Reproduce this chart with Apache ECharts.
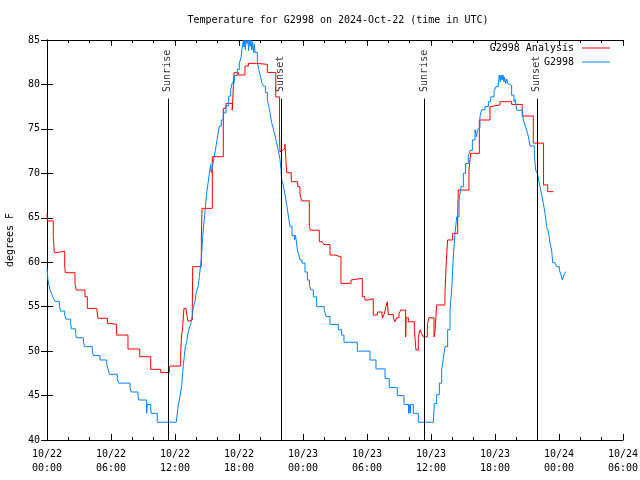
<!DOCTYPE html>
<html>
<head>
<meta charset="utf-8">
<script src="https://cdn.jsdelivr.net/npm/echarts@6/dist/echarts.min.js"></script>
<style>html,body{margin:0;padding:0;background:#fff}#c{width:640px;height:480px}</style>
</head>
<body>
<div id="c"></div>
<script>
// hours since 2024-10-22 00:00 UTC
const tickLabels = ['10/22\n00:00','10/22\n06:00','10/22\n12:00','10/22\n18:00','10/23\n00:00','10/23\n06:00','10/23\n12:00','10/23\n18:00','10/24\n00:00','10/24\n06:00'];
const seriesNames = ['G2998 Analysis', 'G2998'];
const eventNames = ['Sunrise', 'Sunset', 'Sunrise', 'Sunset'];
const eventHours = [11.33, 21.93, 35.35, 45.93];

// [hour, degrees F] change points
const analysisData = [
  [0, 65.4], [0.03, 64.64], [0.59, 62.87], [0.69, 61.07], [0.91, 61.26], [1.66, 59.5], [1.72, 58.82],
  [2.62, 57.62], [2.75, 56.87], [3.28, 57.0], [3.4, 56.87], [3.56, 56.12], [3.78, 54.81], [4.66, 55.0], [4.72, 54.81],
  [4.78, 53.69], [5.66, 53.12], [5.88, 53.01], [6.53, 51.81], [7.59, 50.24], [8.69, 49.37], [9.72, 47.95],
  [10.66, 47.6], [11.47, 48.07], [11.53, 48.32], [12.53, 49.94], [12.62, 51.7], [12.72, 52.75], [12.84, 54.81],
  [13.03, 54.81], [13.09, 54.19], [13.22, 53.36], [13.34, 53.5], [13.62, 54.62], [13.66, 59.5], [14.47, 62.69],
  [14.53, 66.06], [15.5, 71.87], [16.53, 77.31], [16.78, 77.87], [17.37, 77.12], [17.53, 81.32], [17.94, 81.06],
  [18.56, 82.07], [18.88, 82.37], [19.66, 82.26], [20.66, 81.35], [21.45, 78.6], [21.8, 74.2], [21.84, 72.4],
  [21.95, 72.6], [22.1, 72.8], [22.31, 73.27], [22.47, 70.07], [22.9, 69.06], [23.5, 68.5], [23.72, 67.56],
  [23.88, 66.9], [24.59, 64.0], [24.7, 63.6], [25.53, 62.3], [25.8, 62.5], [25.95, 62.0], [26.53, 60.81],
  [27.0, 60.6], [27.56, 57.62], [28.5, 58.0], [28.66, 58.19], [29.56, 56.12], [29.81, 55.75], [30.12, 55.9],
  [30.59, 54.06], [30.97, 54.4], [31.4, 54.1], [31.47, 53.75], [31.6, 54.12], [31.78, 55.0], [31.9, 55.56],
  [32.0, 54.12], [32.47, 53.75], [32.62, 53.3], [32.78, 53.75], [33.0, 54.2], [33.16, 54.62], [33.62, 51.6],
  [33.67, 53.75], [33.88, 53.3], [34.44, 52.4], [34.59, 50.12], [34.81, 51.6], [34.97, 52.4], [35.1, 52.0],
  [35.28, 51.6], [35.66, 53.0], [35.81, 53.75], [36.28, 51.6], [36.37, 52.1], [36.53, 55.19], [37.31, 56.5],
  [37.41, 59.5], [37.56, 62.5], [38.03, 63.25], [38.5, 65.12], [38.56, 68.12], [39.56, 70.37], [39.72, 72.25],
  [40.53, 76.0], [41.53, 77.5], [41.69, 77.69], [42.47, 78.06], [43.56, 77.75], [44.55, 76.45], [45.59, 73.4],
  [46.55, 68.7], [46.94, 67.94], [47.47, 67.94]
];

const obsData = [
  [0, 59.3], [0.09, 58.0], [0.19, 57.4], [0.28, 56.9], [0.41, 56.5], [0.59, 56.0], [0.75, 55.6], [1.16, 55.1],
  [1.28, 54.5], [1.66, 54.0], [1.78, 53.6], [2.22, 53.0], [2.31, 52.5], [2.69, 52.0], [2.75, 51.5], [3.41, 51.0],
  [3.53, 50.5], [4.25, 50.0], [4.34, 49.5], [4.97, 49.0], [5.6, 48.5], [5.72, 48.0], [5.84, 47.4], [6.59, 46.9],
  [6.72, 46.4], [7.78, 45.9], [7.91, 45.4], [8.53, 45.0], [8.62, 44.5], [9.34, 43.0], [9.41, 44.0], [9.72, 43.5],
  [9.78, 43.0], [10.34, 42.0], [12.12, 42.0], [12.22, 43.0], [12.31, 44.0], [12.41, 44.5], [12.53, 45.4],
  [12.62, 46.0], [12.72, 47.5], [12.78, 48.4], [12.87, 49.4], [12.97, 50.5], [13.09, 51.0], [13.22, 52.0],
  [13.34, 52.6], [13.47, 53.0], [13.62, 54.0], [13.72, 55.0], [13.88, 55.6], [13.97, 56.5], [14.09, 57.0],
  [14.19, 57.4], [14.28, 58.4], [14.41, 59.7], [14.5, 61.0], [14.6, 62.9], [14.7, 64.3], [14.8, 65.6],
  [14.9, 66.8], [14.97, 67.8], [15.1, 68.9], [15.22, 70.0], [15.34, 71.0], [15.4, 70.1], [15.55, 71.0],
  [15.69, 72.0], [15.84, 73.0], [16.0, 74.2], [16.15, 75.3], [16.34, 76.0], [16.53, 76.8], [16.78, 77.6],
  [17.03, 78.7], [17.22, 79.4], [17.37, 80.2], [17.56, 81.0], [17.84, 81.7], [18.03, 82.4], [18.19, 83.0],
  [18.28, 84.0], [18.41, 85.0], [18.47, 84.2], [18.53, 85.0], [18.6, 83.9], [18.66, 85.0], [18.75, 84.6],
  [18.84, 85.0], [18.9, 83.8], [18.97, 85.0], [19.05, 84.3], [19.12, 85.0], [19.2, 83.9], [19.28, 84.8],
  [19.36, 83.6], [19.44, 84.5], [19.5, 83.6], [19.72, 82.6], [19.84, 81.7], [20.0, 81.0], [20.13, 80.2],
  [20.28, 79.8], [20.47, 79.1], [20.66, 78.3], [20.78, 77.6], [20.91, 76.8], [21.06, 75.7], [21.22, 75.0],
  [21.38, 74.2], [21.53, 73.4], [21.69, 72.5], [21.84, 71.6], [21.94, 70.4], [22.0, 69.3], [22.16, 68.6],
  [22.31, 67.6], [22.47, 66.5], [22.63, 65.2], [22.78, 64.0], [22.97, 63.0], [23.2, 62.5], [23.3, 63.0],
  [23.36, 62.5], [23.47, 61.4], [23.63, 60.7], [23.72, 60.25], [23.91, 59.9], [24.19, 58.9], [24.41, 58.0],
  [24.6, 57.4], [24.75, 56.9], [24.97, 56.1], [25.28, 55.0], [25.99, 54.6], [26.17, 53.9], [26.53, 53.0],
  [27.31, 52.4], [27.62, 51.8], [27.84, 51.0], [29.09, 50.0], [30.28, 49.0], [30.84, 48.0], [31.69, 46.9],
  [32.09, 45.9], [32.84, 45.0], [33.47, 44.0], [33.9, 43.0], [33.95, 44.0], [34.05, 43.0], [34.1, 44.0],
  [34.34, 43.0], [34.81, 42.0], [36.22, 42.0], [36.31, 44.1], [36.53, 45.1], [36.78, 46.4], [37.0, 47.9],
  [37.16, 49.2], [37.31, 50.5], [37.56, 52.4], [37.78, 54.6], [37.94, 56.9], [38.09, 60.6], [38.25, 63.25],
  [38.41, 65.1], [38.63, 67.0], [38.81, 68.5], [39.03, 70.0], [39.25, 71.1], [39.5, 71.9], [39.66, 72.6],
  [39.88, 73.75], [40.13, 74.9], [40.28, 74.1], [40.35, 74.9], [40.44, 75.1], [40.59, 76.4], [40.75, 77.15],
  [41.06, 77.5], [41.38, 78.06], [41.59, 78.6], [41.91, 79.2], [42.09, 79.75], [42.31, 80.1], [42.4, 81.06],
  [42.5, 80.3], [42.56, 81.06], [42.66, 80.5], [42.75, 81.06], [42.84, 80.3], [42.9, 80.8], [43.0, 80.1],
  [43.1, 80.6], [43.2, 80.1], [43.34, 79.9], [43.56, 78.8], [43.78, 78.06], [43.9, 78.3], [44.04, 77.1],
  [44.6, 76.56], [44.66, 76.0], [44.8, 75.44], [44.97, 74.87], [45.13, 74.12], [45.28, 73.07], [45.69, 72.06],
  [45.81, 70.37], [45.97, 70.0], [46.12, 69.06], [46.22, 68.5], [46.38, 67.56], [46.53, 66.62], [46.69, 65.5],
  [46.84, 64.0], [47.0, 63.44], [47.16, 62.12], [47.31, 61.37], [47.41, 59.95], [47.62, 59.87], [47.78, 59.5],
  [48.03, 59.12], [48.19, 58.56], [48.31, 58.0], [48.47, 58.56], [48.62, 58.94]
];

const FONT = 'DejaVu Sans Mono';
const chart = echarts.init(document.getElementById('c'), null, {renderer: 'canvas'});

const LINE_TOP = 78.4;   // where the sunrise/sunset markers begin
const LABEL_BASE = 79.15;

function xAx(pos, showLabel) {
  return {
    type: 'value', position: pos, min: 0, max: 54, interval: 6,
    axisLine: {show: true, onZero: false, lineStyle: {color: '#000', width: 1}},
    axisTick: {show: true, inside: true, length: 6, lineStyle: {color: '#000'}},
    minorTick: {show: true, splitNumber: 3, length: 3, lineStyle: {color: '#000'}},
    splitLine: {show: false},
    axisLabel: {show: showLabel, color: '#000', fontFamily: FONT, fontSize: 10, lineHeight: 14, margin: 7,
      showMinLabel: true, showMaxLabel: true,
      formatter: v => tickLabels[Math.round(v / 6)]}
  };
}
function yAx(pos, showLabel) {
  return {
    type: 'value', position: pos, min: 40, max: 85, interval: 5,
    name: showLabel ? 'degrees F' : '', nameLocation: 'middle', nameGap: 32, nameRotate: 90,
    nameTextStyle: {color: '#000', fontFamily: FONT, fontSize: 10},
    axisLine: {show: true, lineStyle: {color: '#000', width: 1}},
    axisTick: {show: true, inside: true, length: 6, lineStyle: {color: '#000'}},
    splitLine: {show: false},
    axisLabel: {show: showLabel, color: '#000', fontFamily: FONT, fontSize: 10, margin: 7}
  };
}

function legendFor(name, top) {
  return {data: [{name: name, icon: 'rect'}], right: 30, top: top, padding: 0, itemWidth: 28, itemHeight: 1,
    align: 'right', textStyle: {fontFamily: FONT, fontSize: 10, color: '#000', padding: [0, 3, 0, 0]}};
}

chart.setOption({
  animation: false,
  backgroundColor: '#fff',
  textStyle: {fontFamily: FONT, fontSize: 10, color: '#000'},
  title: {text: 'Temperature for G2998 on 2024-Oct-22 (time in UTC)', left: 333, top: 10, textAlign: 'center',
    textStyle: {fontFamily: FONT, fontSize: 10, fontWeight: 'normal', color: '#000'}},
  grid: {left: 47, right: 17, top: 40, bottom: 40, containLabel: false, outerBoundsMode: 'none'},
  legend: [legendFor(seriesNames[0], 43), legendFor(seriesNames[1], 57)],
  xAxis: [xAx('bottom', true), xAx('top', false)],
  yAxis: [yAx('left', true), yAx('right', false)],
  series: [
    {
      name: 'events', type: 'scatter', silent: true, symbolSize: 0.1,
      itemStyle: {color: 'rgba(0,0,0,0)'},
      data: eventHours.map((h, i) => ({value: [h, LABEL_BASE], name: eventNames[i]})),
      label: {show: true, formatter: '{b}', rotate: 90, position: [0, 0], align: 'left', verticalAlign: 'middle',
        color: '#000', fontFamily: FONT, fontSize: 10},
      markLine: {
        silent: true, symbol: ['none', 'none'], label: {show: false},
        lineStyle: {color: '#000', width: 1, type: 'solid'},
        data: eventHours.map(h => [{coord: [h, LINE_TOP]}, {coord: [h, 40]}])
      }
    },
    {
      name: seriesNames[0], type: 'line', step: 'end', symbol: 'none', showSymbol: false,
      data: analysisData, lineStyle: {color: '#ff0000', width: 1}, itemStyle: {color: '#ff0000'}
    },
    {
      name: seriesNames[1], type: 'line', step: 'end', symbol: 'none', showSymbol: false,
      data: obsData, lineStyle: {color: '#0080ff', width: 1}, itemStyle: {color: '#0080ff'}
    }
  ]
});
</script>
</body>
</html>
